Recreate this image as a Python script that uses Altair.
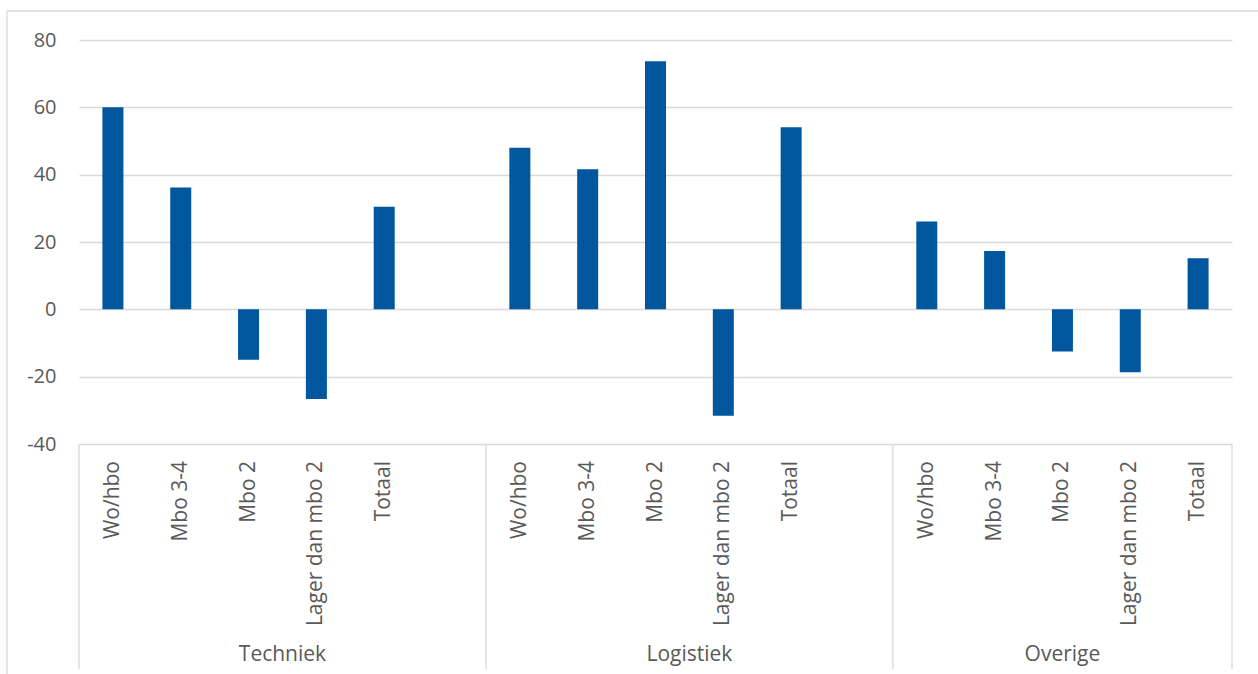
import altair as alt
import pandas as pd

# Sector groups and the education levels shown within each
groups = ["Techniek", "Logistiek", "Overige"]
levels = ["Wo/hbo", "Mbo 3-4", "Mbo 2", "Lager dan mbo 2", "Totaal"]

# Values per group, in the order of `levels`
techniek = [60.0, 36.2, -15.0, -26.6, 30.5]
logistiek = [48.0, 41.6, 73.7, -31.6, 54.1]
overige = [26.1, 17.3, -12.5, -18.7, 15.2]

y_ticks = [-40, -20, 0, 20, 40, 60, 80]

BLUE = "#01579D"
GRID = "#D9D9D9"
TEXT = "#595959"
FONT = "Open Sans"
FS_Y = 20
FS_X = 21

W, H = 1153, 404

# Each group occupies its bars plus one empty slot (except the last group)
series = [techniek, logistiek, overige]
rows, seps, group_rows = [], [0], []
slot = 0
for gi, (g, vals) in enumerate(zip(groups, series)):
    start = slot
    for lvl, v in zip(levels, vals):
        rows.append({"group": g, "level": lvl, "value": v, "pos": slot + 0.5})
        slot += 1
    if gi < len(groups) - 1:
        slot += 1
    seps.append(slot)
    group_rows.append({"group": g, "center": (start + slot) / 2})

n_slots = slot
df = pd.DataFrame(rows)
sep_df = pd.DataFrame({"x": seps})
grp_df = pd.DataFrame(group_rows)

xscale = alt.Scale(domain=[0, n_slots], nice=False, zero=False, padding=0)

bars = alt.Chart(df).mark_bar(size=21, color=BLUE).encode(
    x=alt.X("pos:Q", scale=xscale, axis=None),
    y=alt.Y(
        "value:Q",
        scale=alt.Scale(domain=[-40, 80], nice=False, padding=0),
        axis=alt.Axis(
            values=y_ticks,
            title=None,
            domain=False,
            ticks=False,
            grid=True,
            gridColor=GRID,
            gridWidth=1.3,
            labelColor=TEXT,
            labelFont=FONT,
            labelFontSize=FS_Y,
            labelPadding=23,
            labelExpr="'' + datum.value",
        ),
    ),
)

level_labels = alt.Chart(df).mark_text(
    angle=270, align="right", baseline="middle", font=FONT, fontSize=FS_X, color=TEXT
).encode(
    x=alt.X("pos:Q", scale=xscale, axis=None),
    y=alt.value(H + 17),
    text="level:N",
)

separators = alt.Chart(sep_df).mark_rule(color=GRID, strokeWidth=1.3).encode(
    x=alt.X("x:Q", scale=xscale, axis=None),
    y=alt.value(H),
    y2=alt.value(H + 225),
)

group_labels = alt.Chart(grp_df).mark_text(
    baseline="middle", font=FONT, fontSize=FS_X, color=TEXT
).encode(
    x=alt.X("center:Q", scale=xscale, axis=None),
    y=alt.value(H + 211),
    text="group:N",
)

# Outer chart frame (top and left edges)
frame_top = alt.Chart(pd.DataFrame({"a": [0]})).mark_rule(color=GRID, strokeWidth=1.3).encode(
    x=alt.value(-72), x2=alt.value(W + 26), y=alt.value(-29)
)
frame_left = alt.Chart(pd.DataFrame({"a": [0]})).mark_rule(color=GRID, strokeWidth=1.3).encode(
    x=alt.value(-72), y=alt.value(-29), y2=alt.value(H + 240)
)

chart = (
    alt.layer(frame_top, frame_left, bars, separators, level_labels, group_labels)
    .properties(
        width=W,
        height=H,
        autosize=alt.AutoSizeParams(type="none"),
        padding={"left": 79, "top": 40, "right": 26, "bottom": 230},
        background="white",
    )
    .configure_view(stroke=None)
)

chart.save("out.html", embed_options={"renderer": "svg", "actions": False})
